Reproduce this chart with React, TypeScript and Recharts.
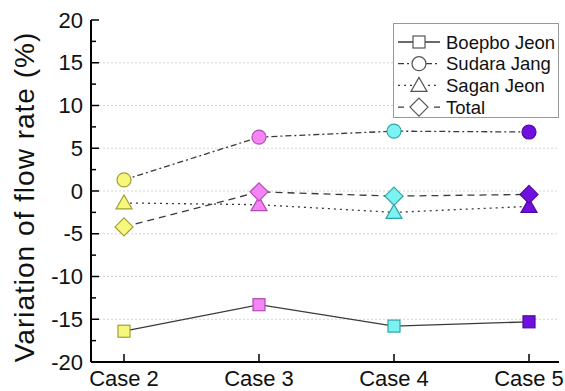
import React from 'react';
import { LineChart, Line, XAxis, YAxis, ReferenceLine } from 'recharts';

const cases = ['Case 2', 'Case 3', 'Case 4', 'Case 5'];
const boepbo = [-16.4, -13.3, -15.8, -15.3];
const sudara = [1.3, 6.3, 7.0, 6.9];
const sagan = [-1.4, -1.6, -2.5, -1.8];
const total = [-4.2, -0.1, -0.6, -0.4];
const seriesNames = ['Boepbo Jeon', 'Sudara Jang', 'Sagan Jeon', 'Total'];
const yTicks = [-20, -17.5, -15, -12.5, -10, -7.5, -5, -2.5, 0, 2.5, 5, 7.5, 10, 12.5, 15, 17.5, 20];
const yLabels = [-20, -15, -10, -5, 0, 5, 10, 15, 20];
const gridValues = [-15, -10, -5, 0, 5, 10, 15];

const caseColors = [
  { fill: '#f7f77c', stroke: '#a0a036' },
  { fill: '#f584f5', stroke: '#b04cb0' },
  { fill: '#7cf2f2', stroke: '#30a4a4' },
  { fill: '#7010e0', stroke: '#4e0a9c' },
];

const data = cases.map((c, i) => ({
  case: c,
  boepbo: boepbo[i],
  sudara: sudara[i],
  sagan: sagan[i],
  total: total[i],
}));

const FONT = '"Liberation Sans", Arial, Helvetica, sans-serif';
const LINE = '#3a3a3a';

type Shape = 'square' | 'circle' | 'triangle' | 'diamond';

function marker(shape: Shape, cx: number, cy: number, fill: string, stroke: string, key?: any) {
  if (shape === 'square') return <rect key={key} x={cx - 6} y={cy - 6} width={12} height={12} fill={fill} stroke={stroke} strokeWidth={1.2} />;
  if (shape === 'circle') return <circle key={key} cx={cx} cy={cy} r={7} fill={fill} stroke={stroke} strokeWidth={1.2} />;
  if (shape === 'triangle')
    return <polygon key={key} points={`${cx},${cy - 8} ${cx - 8},${cy + 6} ${cx + 8},${cy + 6}`} fill={fill} stroke={stroke} strokeWidth={1.2} />;
  return <polygon key={key} points={`${cx},${cy - 9} ${cx + 9},${cy} ${cx},${cy + 9} ${cx - 9},${cy}`} fill={fill} stroke={stroke} strokeWidth={1.2} />;
}

const dotFor = (shape: Shape) => (props: any) => {
  const { cx, cy, index } = props;
  const c = caseColors[index];
  return marker(shape, cx, cy, c.fill, c.stroke, `${shape}-${index}`);
};

const LeftTick = (props: any) => {
  const { x, y, payload } = props;
  const v = payload.value;
  const major = yLabels.includes(v);
  return (
    <g>
      <line x1={x} y1={y} x2={x + (major ? 8 : 5)} y2={y} stroke="#000" strokeWidth={1.5} />
      {major && (
        <text x={x - 8} y={y} textAnchor="end" dominantBaseline="central" fontSize={22} fontFamily={FONT} fill="#111">
          {v}
        </text>
      )}
    </g>
  );
};

const RightTick = (props: any) => {
  const { x, y, payload } = props;
  const major = yLabels.includes(payload.value);
  return <line x1={x} y1={y} x2={x - (major ? 8 : 5)} y2={y} stroke="#000" strokeWidth={1.5} />;
};

const BottomTick = (props: any) => {
  const { x, y, payload } = props;
  return (
    <g>
      <line x1={x} y1={y} x2={x} y2={y - 8} stroke="#000" strokeWidth={1.5} />
      <text x={x} y={y + 24} textAnchor="middle" fontSize={22} fontFamily={FONT} fill="#111">
        {payload.value}
      </text>
    </g>
  );
};

const TopTick = (props: any) => {
  const { x, y } = props;
  return <line x1={x} y1={y} x2={x} y2={y + 8} stroke="#000" strokeWidth={1.5} />;
};

const YLabel = () => (
  <text
    x={34}
    y={197}
    transform="rotate(-90 34 197)"
    textAnchor="middle"
    fontSize={28}
    letterSpacing={1}
    fontFamily={FONT}
    fill="#111"
  >
    Variation of flow rate (%)
  </text>
);

const legendStyles: { shape: Shape; dash: string }[] = [
  { shape: 'square', dash: '' },
  { shape: 'circle', dash: '6 3 2 3' },
  { shape: 'triangle', dash: '2 4' },
  { shape: 'diamond', dash: '6 6' },
];

const LegendBox = () => (
  <svg width={170} height={100} style={{ position: 'absolute', left: 393, top: 23 }}>
    <rect x={0.5} y={0.5} width={165} height={94} fill="#fff" stroke="#999" strokeWidth={1} />
    {seriesNames.map((name, i) => {
      const y = 19 + i * 21.7;
      const st = legendStyles[i];
      return (
        <g key={name}>
          <line x1={5} y1={y} x2={47} y2={y} stroke={LINE} strokeWidth={1.3} strokeDasharray={st.dash || undefined} />
          {marker(st.shape, 26, y, '#fff', '#555')}
          <text x={53} y={y} dominantBaseline="central" fontSize={18.5} fontFamily={FONT} fill="#111">
            {name}
          </text>
        </g>
      );
    })}
  </svg>
);

export default function App() {
  return (
    <div style={{ position: 'absolute', left: 0, top: 0, width: 565, height: 391, background: '#fff' }}>
      <LineChart width={565} height={391} data={data} margin={{ top: 20, right: 6, bottom: 0, left: 0 }}>
        <XAxis
          dataKey="case"
          xAxisId={0}
          height={29}
          padding={{ left: 33, right: 30 }}
          tickSize={0}
          tickMargin={0}
          tickLine={false}
          axisLine={{ stroke: '#000', strokeWidth: 2 }}
          tick={<BottomTick />}
          interval={0}
        />
        <XAxis
          dataKey="case"
          xAxisId="top"
          orientation="top"
          height={0}
          padding={{ left: 33, right: 30 }}
          tickSize={0}
          tickMargin={0}
          tickLine={false}
          axisLine={{ stroke: '#000', strokeWidth: 2 }}
          tick={<TopTick />}
          interval={0}
        />
        <YAxis
          yAxisId={0}
          width={91}
          type="number"
          domain={[-20, 20]}
          ticks={yTicks}
          interval={0}
          tickSize={0}
          tickMargin={0}
          tickLine={false}
          axisLine={{ stroke: '#000', strokeWidth: 2 }}
          tick={<LeftTick />}
          label={{ content: () => <YLabel /> }}
        />
        <YAxis
          yAxisId="right"
          orientation="right"
          width={0}
          type="number"
          domain={[-20, 20]}
          ticks={yTicks}
          interval={0}
          tickSize={0}
          tickMargin={0}
          tickLine={false}
          axisLine={{ stroke: '#000', strokeWidth: 2 }}
          tick={<RightTick />}
        />
        {gridValues.map((v) => (
          <ReferenceLine key={v} y={v} yAxisId={0} stroke="#d4d4d4" strokeDasharray="2 2" strokeWidth={1} />
        ))}
        <Line dataKey="boepbo" stroke={LINE} strokeWidth={1.3} dot={dotFor('square')} activeDot={false} isAnimationActive={false} />
        <Line dataKey="sudara" stroke={LINE} strokeWidth={1.3} strokeDasharray="6 3 2 3" dot={dotFor('circle')} activeDot={false} isAnimationActive={false} />
        <Line dataKey="sagan" stroke={LINE} strokeWidth={1.3} strokeDasharray="2 4" dot={dotFor('triangle')} activeDot={false} isAnimationActive={false} />
        <Line dataKey="total" stroke={LINE} strokeWidth={1.3} strokeDasharray="7 5" dot={dotFor('diamond')} activeDot={false} isAnimationActive={false} />
      </LineChart>
      <LegendBox />
    </div>
  );
}
